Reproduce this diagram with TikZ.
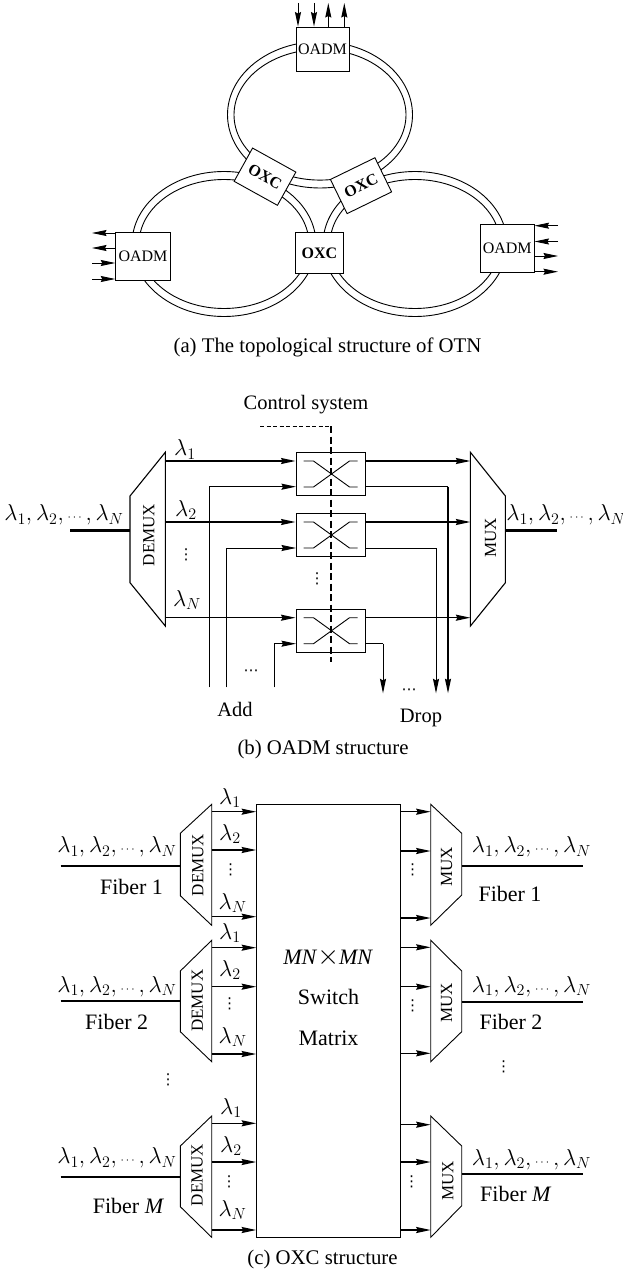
\documentclass[tikz,border=0pt]{standalone}
\usepackage{fix-cm}
\usepackage{fontspec}
\setmainfont{Liberation Serif}
\newfontfamily\dotfont{DejaVu Sans}
\usetikzlibrary{calc,arrows.meta}
\tikzset{
		>={Stealth[length=14.5pt,width=6pt,inset=1.5pt]},
		txt/.style={inner sep=0pt,font=\fontsize{20.5}{24}\selectfont},
		bigtxt/.style={inner sep=0pt,font=\fontsize{22}{26}\selectfont},
		lam/.style={inner sep=0pt,font=\fontsize{23}{26}\selectfont},
		muxtxt/.style={inner sep=0pt,rotate=90,font=\fontsize{17}{20}\selectfont},
		boxlab/.style={draw,fill=white,line width=0.9pt,inner sep=0pt,font=\fontsize{16}{18}\selectfont},
		oxcbox/.style={boxlab,font=\fontsize{16}{18}\selectfont\bfseries,minimum width=49.5pt,minimum height=38pt},
		swbox/.style={draw,line width=0.9pt,minimum width=69.5pt,minimum height=43.4pt,inner sep=0pt},
		wire/.style={line width=0.9pt},
		arr/.style={line width=1.5pt,->},
		fibre/.style={line width=2.4pt},
		dotlab/.style={inner sep=0pt,font=\dotfont\fontsize{15}{17}\selectfont}
	}
\newcommand{\lamlist}{$\lambda_1,\lambda_2,$\,{\fontsize{12}{12}\selectfont$\cdots$}\,$,\lambda_N$}
\begin{document}
\begin{tikzpicture}[x=1pt,y=-1pt]
          \useasboundingbox (0,0) rectangle (623,1273);

          % (a) rings
          \draw[wire] (320,114.8) ellipse [x radius=92.5,y radius=73.2];
          \draw[wire] (320,114.8) ellipse [x radius=86,y radius=65.3];
          \draw[wire] (224,244) ellipse [x radius=92,y radius=72.5];
          \draw[wire] (224,244) ellipse [x radius=85,y radius=64.5];
          \draw[wire] (415,244) ellipse [x radius=92,y radius=72.5];
          \draw[wire] (415,244) ellipse [x radius=85,y radius=64.5];

          \node[boxlab,minimum width=53pt,minimum height=44pt] (oadmT) at (322.5,49) {OADM};
          \node[boxlab,minimum width=54.6pt,minimum height=47.6pt] (oadmL) at (143,256.5) {OADM};
          \node[boxlab,minimum width=53.7pt,minimum height=47.3pt] (oadmR) at (507.2,248.6) {OADM};
          \node[oxcbox,minimum width=47.6pt,minimum height=40.6pt] (oxcC) at (319.5,253) {OXC};
          \node[oxcbox,rotate=-29] (oxcL) at (265,176.7) {OXC};
          \node[oxcbox,rotate=26] (oxcR) at (361,185.7) {OXC};

          \coordinate (t1) at (298,3);
          \coordinate (t2) at (314,3);
          \coordinate (t3) at (328.3,3);
          \coordinate (t4) at (344.3,3);
          \draw[wire,->] (t1) -- (t1 |- oadmT.north);
          \draw[wire,->] (t2) -- (t2 |- oadmT.north);
          \draw[wire,->] (t3 |- oadmT.north) -- (t3);
          \draw[wire,->] (t4 |- oadmT.north) -- (t4);

          \coordinate (l1) at (92,233);
          \coordinate (l2) at (92,248);
          \coordinate (l3) at (92,263);
          \coordinate (l4) at (92,279);
          \draw[wire,->] (l1 -| oadmL.west) -- (l1);
          \draw[wire,->] (l2 -| oadmL.west) -- (l2);
          \draw[wire,->] (l3) -- (l3 -| oadmL.west);
          \draw[wire,->] (l4) -- (l4 -| oadmL.west);

          \coordinate (r1) at (558,225.7);
          \coordinate (r2) at (558,241.5);
          \coordinate (r3) at (558,256);
          \coordinate (r4) at (558,271.7);
          \draw[wire,->] (r1) -- (r1 -| oadmR.east);
          \draw[wire,->] (r2) -- (r2 -| oadmR.east);
          \draw[wire,->] (r3 -| oadmR.east) -- (r3);
          \draw[wire,->] (r4 -| oadmR.east) -- (r4);

          \node[txt,font=\fontsize{20.8}{24}\selectfont] (capA) at (327.5,347) {(a) The topological structure of OTN};

          % (b) OADM
          \draw[line width=1.1pt] (165.3,452.3) -- (165.3,626) -- (130,582.7) -- (130,496) -- cycle;
          \draw[line width=1.1pt] (470.4,452.3) -- (470.4,626) -- (505.4,582.7) -- (505.4,496) -- cycle;
          \node[muxtxt] (dmxB) at (149,535) {DEMUX};
          \node[muxtxt] (muxB) at (490.7,537.7) {MUX};

          \coordinate (inB) at (70,530.3);
          \coordinate (dmxBw) at (130,530.3);
          \coordinate (muxBe) at (505.4,530.3);
          \coordinate (outB) at (557,530.3);
          \draw[fibre] (inB) -- (dmxBw);
          \draw[fibre] (muxBe) -- (outB);
          \node[lam] (lamBi) at (64,515) {\lamlist};
          \node[lam] (lamBo) at (566,515) {\lamlist};

          \node[swbox] (swA) at (330.7,474) {};
          \node[swbox] (swB) at (330.7,535) {};
          \node[swbox] (swC) at (330.7,630.7) {};

          % switch crossings
          \draw[wire] ($(swA.west)+(8,-13)$) -- ++(10,0) -- ++(36,26) -- ++(8,0);
          \draw[wire] ($(swA.west)+(8,13)$) -- ++(10,0) -- ++(36,-26) -- ++(8,0);
          \draw[wire] ($(swB.west)+(8,-13)$) -- ++(10,0) -- ++(36,26) -- ++(8,0);
          \draw[wire] ($(swB.west)+(8,13)$) -- ++(10,0) -- ++(36,-26) -- ++(8,0);
          \draw[wire] ($(swC.west)+(8,-13)$) -- ++(10,0) -- ++(36,26) -- ++(8,0);
          \draw[wire] ($(swC.west)+(8,13)$) -- ++(10,0) -- ++(36,-26) -- ++(8,0);

          \coordinate (ctlA) at (260,426);
          \coordinate (ctlB) at (331,426);
          \coordinate (ctlC) at (331,661.7);
          \draw[wire,dash pattern=on 4pt off 2.5pt] (ctlA) -- (ctlB);
          \draw[line width=1.1pt,dash pattern=on 7pt off 3.5pt] (ctlB) -- (ctlC);
          \node[txt] (ctl) at (306,405) {Control system};

          \coordinate (dA) at (165.3,461);
          \coordinate (dB) at (165.3,522);
          \coordinate (dC) at (165.3,617.7);
          \coordinate (mA) at (470.4,461);
          \coordinate (mB) at (470.4,522);
          \coordinate (mC) at (470.4,617.7);
          \draw[arr] (dA) -- (dA -| swA.west);
          \draw[arr] (dB) -- (dB -| swB.west);
          \draw[arr] (dC) -- (dC -| swC.west);
          \draw[arr] (mA -| swA.east) -- (mA);
          \draw[arr] (mB -| swB.east) -- (mB);
          \draw[arr] (mC -| swC.east) -- (mC);

          \coordinate (addA) at (209,687.3);
          \coordinate (addB) at (226,687.3);
          \coordinate (addC) at (274,687.3);
          \coordinate (ayA) at (296,486.7);
          \coordinate (ayB) at (296,548);
          \coordinate (ayC) at (296,643.7);
          \draw[wire] (addA) -- (addA |- ayA);
          \draw[arr] (addA |- ayA) -- (ayA);
          \draw[wire] (addB) -- (addB |- ayB);
          \draw[wire,->] (addB |- ayB) -- (ayB);
          \draw[wire] (addC) -- (addC |- ayC);
          \draw[wire,->] (addC |- ayC) -- (ayC);

          \coordinate (dropA) at (448,693.3);
          \coordinate (dropB) at (436,693.3);
          \coordinate (dropC) at (383,693.3);
          \draw[wire] (swA.east |- ayA) -- (dropA |- ayA);
          \draw[arr] (dropA |- ayA) -- (dropA);
          \draw[wire] (swB.east |- ayB) -- (dropB |- ayB);
          \draw[wire,->] (dropB |- ayB) -- (dropB);
          \draw[wire] (swC.east |- ayC) -- (dropC |- ayC);
          \draw[wire,->] (dropC |- ayC) -- (dropC);

          \node[lam] (lb1) at (185,449.3) {$\lambda_1$};
          \node[lam] (lb2) at (186,510) {$\lambda_2$};
          \node[dotlab] (lb3) at (186,555) {⋮};
          \node[lam] (lb4) at (187,600) {$\lambda_N$};
          \node[dotlab] (swdots) at (317,579) {⋮};
          \node[dotlab] (adddots) at (251,673) {⋯};
          \node[dotlab] (dropdots) at (409,692) {⋯};
          \node[txt] (add) at (235,709.3) {Add};
          \node[txt] (drop) at (421,718.3) {Drop};
          \node[txt,font=\fontsize{20.8}{24}\selectfont] (capB) at (323,749.3) {(b) OADM structure};

          % (c) OXC
          \node[draw,line width=0.9pt,minimum width=143.9pt,minimum height=433pt,inner sep=0pt] (mat) at (328.6,1020.8) {};
          \node[bigtxt] (matA) at (328.2,957) {\textit{MN}{\fontsize{28}{28}\selectfont$\times$}\textit{MN}};
          \node[bigtxt] (matB) at (328.5,997) {Switch};
          \node[bigtxt] (matC) at (328.5,1038) {Matrix};

          \draw[wire] (211.7,804.3) -- (211.7,925.3) -- (180.3,895.7) -- (180.3,833.3) -- cycle;
          \draw[wire] (211.7,940.3) -- (211.7,1061.7) -- (180.3,1031.7) -- (180.3,971) -- cycle;
          \draw[wire] (211.7,1116) -- (211.7,1237.3) -- (180.3,1206.7) -- (180.3,1146) -- cycle;
          \draw[wire] (430.7,804.3) -- (430.7,925.3) -- (461.7,895) -- (461.7,833.3) -- cycle;
          \draw[wire] (430.7,940.3) -- (430.7,1061.7) -- (461.7,1031.7) -- (461.7,971) -- cycle;
          \draw[wire] (430.7,1116) -- (430.7,1237.3) -- (461.7,1205.7) -- (461.7,1146) -- cycle;

          \node[muxtxt] (dmxC1) at (198,865) {DEMUX};
          \node[muxtxt] (dmxC2) at (197.3,1000.7) {DEMUX};
          \node[muxtxt] (dmxC3) at (197.2,1175) {DEMUX};
          \node[muxtxt] (muxC1) at (446.7,867) {MUX};
          \node[muxtxt] (muxC2) at (446.7,1003) {MUX};
          \node[muxtxt] (muxC3) at (448,1181) {MUX};

          \coordinate (fiA) at (60.7,866);
          \coordinate (fiB) at (60.7,1001);
          \coordinate (fiC) at (60.7,1176.7);
          \coordinate (foA) at (583.3,866);
          \coordinate (foB) at (583.3,1001.7);
          \coordinate (foC) at (583.3,1174.3);
          \coordinate (dmxCw) at (180.3,1000);
          \coordinate (muxCe) at (461.7,1000);
          \draw[line width=1.7pt] (fiA) -- (fiA -| dmxCw);
          \draw[line width=1.7pt] (fiB) -- (fiB -| dmxCw);
          \draw[line width=1.7pt] (fiC) -- (fiC -| dmxCw);
          \draw[line width=1.7pt] (foA -| muxCe) -- (foA);
          \draw[line width=1.7pt] (foB -| muxCe) -- (foB);
          \draw[line width=1.7pt] (foC -| muxCe) -- (foC);

          \coordinate (pa1) at (211.7,811.7);
          \coordinate (pa2) at (211.7,850);
          \coordinate (pa3) at (211.7,916.7);
          \coordinate (pb1) at (211.7,947.7);
          \coordinate (pb2) at (211.7,986.7);
          \coordinate (pb3) at (211.7,1054);
          \coordinate (pc1) at (211.7,1123.3);
          \coordinate (pc2) at (211.7,1162);
          \coordinate (pc3) at (211.7,1230);
          \draw[arr] (pa1) -- (pa1 -| mat.west);
          \draw[arr] (pa2) -- (pa2 -| mat.west);
          \draw[arr] (pa3) -- (pa3 -| mat.west);
          \draw[arr] (pb1) -- (pb1 -| mat.west);
          \draw[arr] (pb2) -- (pb2 -| mat.west);
          \draw[arr] (pb3) -- (pb3 -| mat.west);
          \draw[arr] (pc1) -- (pc1 -| mat.west);
          \draw[arr] (pc2) -- (pc2 -| mat.west);
          \draw[arr] (pc3) -- (pc3 -| mat.west);

          \coordinate (qa1) at (430.7,811.7);
          \coordinate (qa2) at (430.7,851);
          \coordinate (qa3) at (430.7,918);
          \coordinate (qb1) at (430.7,947.3);
          \coordinate (qb2) at (430.7,986.7);
          \coordinate (qb3) at (430.7,1053.3);
          \coordinate (qc1) at (430.7,1124.7);
          \coordinate (qc2) at (430.7,1162);
          \coordinate (qc3) at (430.7,1230);
          \draw[arr] (qa1 -| mat.east) -- (qa1);
          \draw[arr] (qa2 -| mat.east) -- (qa2);
          \draw[arr] (qa3 -| mat.east) -- (qa3);
          \draw[arr] (qb1 -| mat.east) -- (qb1);
          \draw[arr] (qb2 -| mat.east) -- (qb2);
          \draw[arr] (qb3 -| mat.east) -- (qb3);
          \draw[arr] (qc1 -| mat.east) -- (qc1);
          \draw[arr] (qc2 -| mat.east) -- (qc2);
          \draw[arr] (qc3 -| mat.east) -- (qc3);

          \node[lam] (lcA) at (117,847) {\lamlist};
          \node[lam] (lcB) at (117,986.7) {\lamlist};
          \node[lam] (lcC) at (117,1158) {\lamlist};
          \node[lam] (rcA) at (531.5,847) {\lamlist};
          \node[lam] (rcB) at (531.5,986.7) {\lamlist};
          \node[lam] (rcC) at (531.5,1159.3) {\lamlist};

          \node[bigtxt] (fbA) at (131.5,887) {Fiber 1};
          \node[bigtxt] (fbB) at (116.7,1022) {Fiber 2};
          \node[bigtxt] (fbC) at (128.5,1206) {Fiber \textit{M}};
          \node[bigtxt] (gbA) at (510,894) {Fiber 1};
          \node[bigtxt] (gbB) at (511,1022) {Fiber 2};
          \node[bigtxt] (gbC) at (515.8,1194.3) {Fiber \textit{M}};

          \node[lam] (a1) at (230,798) {$\lambda_1$};
          \node[lam] (a2) at (230,834) {$\lambda_2$};
          \node[dotlab] (a3) at (230.7,870) {⋮};
          \node[lam] (a4) at (232.7,903) {$\lambda_N$};
          \node[lam] (b1) at (230,933) {$\lambda_1$};
          \node[lam] (b2) at (230,970) {$\lambda_2$};
          \node[dotlab] (b3) at (229.7,1004) {⋮};
          \node[lam] (b4) at (232.7,1037) {$\lambda_N$};
          \node[lam] (c1) at (231,1108) {$\lambda_1$};
          \node[lam] (c2) at (231,1146) {$\lambda_2$};
          \node[dotlab] (c3) at (229,1181.7) {⋮};
          \node[lam] (c4) at (232.5,1210) {$\lambda_N$};

          \node[dotlab] (qd1) at (412.7,870) {⋮};
          \node[dotlab] (qd2) at (412.7,1006) {⋮};
          \node[dotlab] (qd3) at (411.7,1182) {⋮};
          \node[dotlab] (ld) at (168,1080) {⋮};
          \node[dotlab] (rd) at (503.6,1066.7) {⋮};

          \node[txt,font=\fontsize{20.8}{24}\selectfont] (capC) at (322.5,1259) {(c) OXC structure};

          \end{tikzpicture}
\end{document}
